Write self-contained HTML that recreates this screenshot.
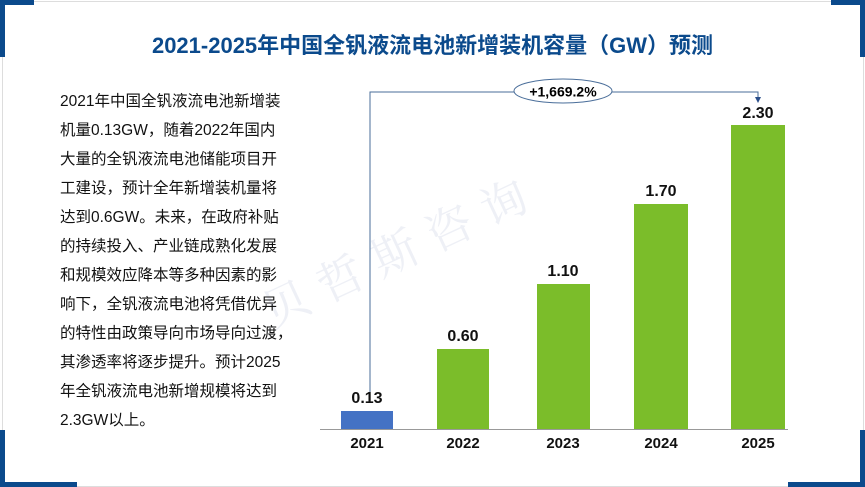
<!DOCTYPE html><html><head><meta charset="utf-8"><style>
body{margin:0;width:865px;height:487px;background:#fff;position:relative;overflow:hidden;font-family:"Liberation Sans","Noto Sans CJK SC",sans-serif}
.a{position:absolute}
.b{position:absolute;background:#0b4a8c}
.t{position:absolute;left:0;width:865px;top:28px;text-align:center;font-size:22px;font-weight:bold;color:#0b4a8c}
.p{position:absolute;left:60px;top:87px;width:270px;font-size:15.5px;line-height:29px;color:#111;white-space:nowrap}
.bar{position:absolute;background:#7bbd2a}
.v{position:absolute;width:80px;text-align:center;font-size:16px;font-weight:bold;color:#111}
.y{position:absolute;width:80px;text-align:center;font-size:15px;font-weight:bold;color:#111;top:435px}
</style></head><body>
<div class="a" style="left:2px;top:1px;width:860px;height:484px;border:1px solid #ddd"></div>
<div class="b" style="left:0;top:0;width:5px;height:57px"></div><div class="b" style="left:0;top:0;width:34px;height:5px"></div>
<div class="b" style="right:0;top:0;width:5px;height:57px"></div><div class="b" style="right:0;top:0;width:34px;height:5px"></div>
<div class="b" style="left:0;bottom:0;width:5px;height:57px"></div><div class="b" style="left:0;bottom:0;width:77px;height:5px"></div>
<div class="b" style="right:0;bottom:0;width:5px;height:57px"></div><div class="b" style="right:0;bottom:0;width:77px;height:5px"></div>
<div class="t">2021-2025年中国全钒液流电池新增装机容量（GW）预测</div>
<div class="a" style="left:250px;top:215px;font-size:46px;color:#eef0f6;transform:rotate(-25deg);letter-spacing:14px;font-family:'Noto Serif CJK SC',serif">贝哲斯咨询</div>
<div class="p">2021年中国全钒液流电池新增装<br>机量0.13GW，随着2022年国内<br>大量的全钒液流电池储能项目开<br>工建设，预计全年新增装机量将<br>达到0.6GW。未来，在政府补贴<br>的持续投入、产业链成熟化发展<br>和规模效应降本等多种因素的影<br>响下，全钒液流电池将凭借优异<br>的特性由政策导向市场导向过渡，<br>其渗透率将逐步提升。预计2025<br>年全钒液流电池新增规模将达到<br>2.3GW以上。</div>
<svg class="a" style="left:0;top:0" width="865" height="487">
<path d="M370 392 V92 H758 V98" fill="none" stroke="#4a6e9a" stroke-width="1"/>
<path d="M755 97 L761 97 L758 103 Z" fill="#2a4e8a"/>
<ellipse cx="563" cy="91" rx="49" ry="12" fill="#fff" stroke="#4a6e9a"/>
<text x="563" y="96.5" text-anchor="middle" font-size="14" font-weight="bold" font-family="Liberation Sans">+1,669.2%</text>
<line x1="320" y1="429.5" x2="788" y2="429.5" stroke="#999"/>
</svg>
<div class="bar" style="left:341px;top:411px;width:52px;height:18px;background:#4472c4"></div>
<div class="bar" style="left:437px;top:349px;width:52px;height:80px"></div>
<div class="bar" style="left:537px;top:284px;width:53px;height:145px"></div>
<div class="bar" style="left:634px;top:204px;width:54px;height:225px"></div>
<div class="bar" style="left:731px;top:125px;width:54px;height:304px"></div>
<div class="v" style="left:327px;top:390px">0.13</div>
<div class="v" style="left:423px;top:328px">0.60</div>
<div class="v" style="left:523px;top:263px">1.10</div>
<div class="v" style="left:621px;top:183px">1.70</div>
<div class="v" style="left:718px;top:105px">2.30</div>
<div class="y" style="left:327px">2021</div><div class="y" style="left:423px">2022</div><div class="y" style="left:523px">2023</div><div class="y" style="left:621px">2024</div><div class="y" style="left:718px">2025</div>
</body></html>
